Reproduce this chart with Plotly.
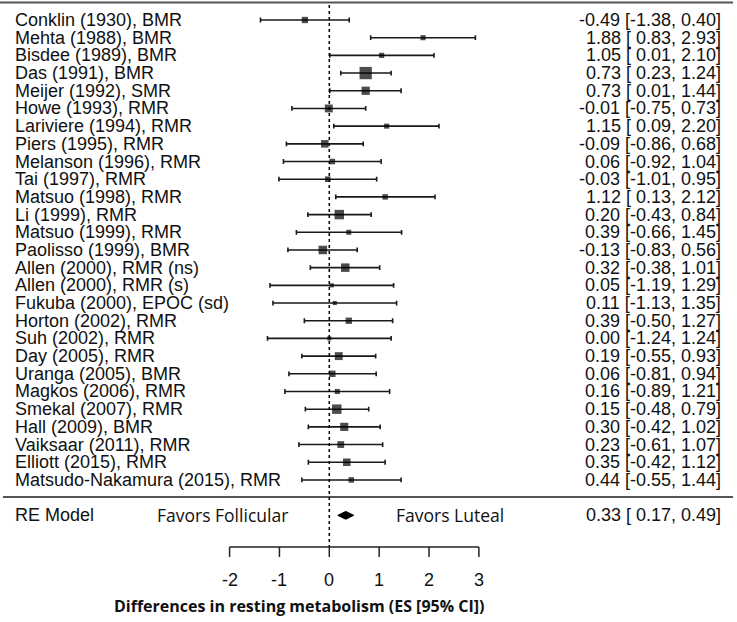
import plotly.graph_objects as go

studies = [
    "Conklin (1930), BMR", "Mehta (1988), BMR", "Bisdee (1989), BMR", "Das (1991), BMR",
    "Meijer (1992), SMR", "Howe (1993), RMR", "Lariviere (1994), RMR", "Piers (1995), RMR",
    "Melanson (1996), RMR", "Tai (1997), RMR", "Matsuo (1998), RMR", "Li (1999), RMR",
    "Matsuo (1999), RMR", "Paolisso (1999), BMR", "Allen (2000), RMR (ns)", "Allen (2000), RMR (s)",
    "Fukuba (2000), EPOC (sd)", "Horton (2002), RMR", "Suh (2002), RMR", "Day (2005), RMR",
    "Uranga (2005), BMR", "Magkos (2006), RMR", "Smekal (2007), RMR", "Hall (2009), BMR",
    "Vaiksaar (2011), RMR", "Elliott (2015), RMR", "Matsudo-Nakamura (2015), RMR",
]
es = [-0.49, 1.88, 1.05, 0.73, 0.73, -0.01, 1.15, -0.09, 0.06, -0.03, 1.12, 0.20, 0.39, -0.13,
      0.32, 0.05, 0.11, 0.39, 0.00, 0.19, 0.06, 0.16, 0.15, 0.30, 0.23, 0.35, 0.44]
ci_lo = [-1.38, 0.83, 0.01, 0.23, 0.01, -0.75, 0.09, -0.86, -0.92, -1.01, 0.13, -0.43, -0.66, -0.83,
         -0.38, -1.19, -1.13, -0.50, -1.24, -0.55, -0.81, -0.89, -0.48, -0.42, -0.61, -0.42, -0.55]
ci_hi = [0.40, 2.93, 2.10, 1.24, 1.44, 0.73, 2.20, 0.68, 1.04, 0.95, 2.12, 0.84, 1.45, 0.56,
         1.01, 1.29, 1.35, 1.27, 1.24, 0.93, 0.94, 1.21, 0.79, 1.02, 1.07, 1.12, 1.44]
re_label = "RE Model"
re_est, re_lo, re_hi = 0.33, 0.17, 0.49
tick_vals = [-2, -1, 0, 1, 2, 3]
x_title = "Differences in resting metabolism (ES [95% CI])"
favor_left = "Favors Follicular"
favor_right = "Favors Luteal"

n = len(studies)
rows = list(range(n))

# metafor-style point sizes: linear in 1/se, scaled 0.5 .. 1.5
inv_w = [1.0 / (h - l) for l, h in zip(ci_lo, ci_hi)]
mn, mx = min(inv_w), max(inv_w)
psize = [((w - mn) / (mx - mn)) + 0.5 for w in inv_w]
sizes = [8.2 * p for p in psize]

W, H = 737, 622
ppu = 49.86          # px per x unit
x0px = 329.3          # px of x = 0
row0px, rowpx = 20.0, 17.69
xr = [-x0px / ppu, (W - x0px) / ppu]
yr = [(H - row0px) / rowpx, -row0px / rowpx]

def ypx(p):
    return (p - row0px) / rowpx

def xpx(p):
    return (p - x0px) / ppu

fig = go.Figure()
fig.add_trace(go.Scatter(
    x=es, y=rows, mode="markers",
    marker=dict(symbol="square", size=sizes, color="#000", line=dict(width=0)),
    error_x=dict(type="data", symmetric=False,
                 array=[h - e for e, h in zip(es, ci_hi)],
                 arrayminus=[e - l for e, l in zip(es, ci_lo)],
                 color="#1a1a1a", thickness=1.6, width=2.4),
    hoverinfo="skip", showlegend=False))

re_row = n + 1
dh = 0.22
fig.add_trace(go.Scatter(
    x=[re_lo, re_est, re_hi, re_est, re_lo],
    y=[re_row, re_row - dh, re_row, re_row + dh, re_row],
    mode="lines", fill="toself", fillcolor="#000", line=dict(color="#000", width=1),
    hoverinfo="skip", showlegend=False))

ann = []
lab_font = dict(family="Liberation Sans, Arial", size=18, color="#111")
for i, (s, e, l, h) in enumerate(zip(studies, es, ci_lo, ci_hi)):
    ann.append(dict(x=13 / W, xref="paper", y=i, yref="y", text=s, showarrow=False,
                    xanchor="left", yanchor="middle", font=lab_font))
    ann.append(dict(x=723 / W, xref="paper", y=i, yref="y",
                    text=f"{e:.2f} [{l:5.2f}, {h:.2f}]", showarrow=False,
                    xanchor="right", yanchor="middle", font=lab_font))
ann.append(dict(x=13 / W, xref="paper", y=re_row, yref="y", text=re_label, showarrow=False,
                xanchor="left", yanchor="middle", font=lab_font))
ann.append(dict(x=723 / W, xref="paper", y=re_row, yref="y",
                text=f"{re_est:.2f} [{re_lo:5.2f}, {re_hi:.2f}]", showarrow=False,
                xanchor="right", yanchor="middle", font=lab_font))

fav_font = dict(family="Open Sans", size=17.5, color="#111")
ann.append(dict(x=xpx(290), y=re_row, xref="x", yref="y", text=favor_left, showarrow=False,
                xanchor="right", yanchor="middle", font=fav_font))
ann.append(dict(x=xpx(394), y=re_row, xref="x", yref="y", text=favor_right, showarrow=False,
                xanchor="left", yanchor="middle", font=fav_font))

axis_y = ypx(547)
tick_end = ypx(557)
for t in tick_vals:
    ann.append(dict(x=t, y=ypx(580), xref="x", yref="y", text=str(t), showarrow=False,
                    xanchor="center", yanchor="middle", font=lab_font))
ann.append(dict(x=298.5 / W, xref="paper", y=ypx(606), yref="y", text=f"<b>{x_title}</b>",
                showarrow=False, xanchor="center", yanchor="middle",
                font=dict(family="Open Sans", size=16, color="#111")))

shapes = []
shapes.append(dict(type="line", xref="paper", yref="y", x0=0, x1=733 / W,
                   y0=ypx(2.5), y1=ypx(2.5), line=dict(color="#555", width=2)))
shapes.append(dict(type="line", xref="paper", yref="y", x0=3 / W, x1=733 / W,
                   y0=ypx(497), y1=ypx(497), line=dict(color="#555", width=2)))
shapes.append(dict(type="line", xref="x", yref="y", x0=0, x1=0,
                   y0=ypx(5), y1=axis_y, line=dict(color="#000", width=1.5, dash="dot")))
shapes.append(dict(type="line", xref="x", yref="y", x0=min(tick_vals), x1=max(tick_vals),
                   y0=axis_y, y1=axis_y, line=dict(color="#222", width=1.5)))
for t in tick_vals:
    shapes.append(dict(type="line", xref="x", yref="y", x0=t, x1=t,
                       y0=axis_y, y1=tick_end, line=dict(color="#222", width=1.5)))

fig.update_layout(
    width=W, height=H, margin=dict(l=0, r=0, t=0, b=0),
    paper_bgcolor="white", plot_bgcolor="white",
    xaxis=dict(range=xr, visible=False, fixedrange=True),
    yaxis=dict(range=yr, visible=False, fixedrange=True),
    annotations=ann, shapes=shapes, showlegend=False,
)
fig.write_html("out.html", config={"displayModeBar": False},
               post_script="document.body.style.margin='0';document.body.style.overflow='hidden';")
